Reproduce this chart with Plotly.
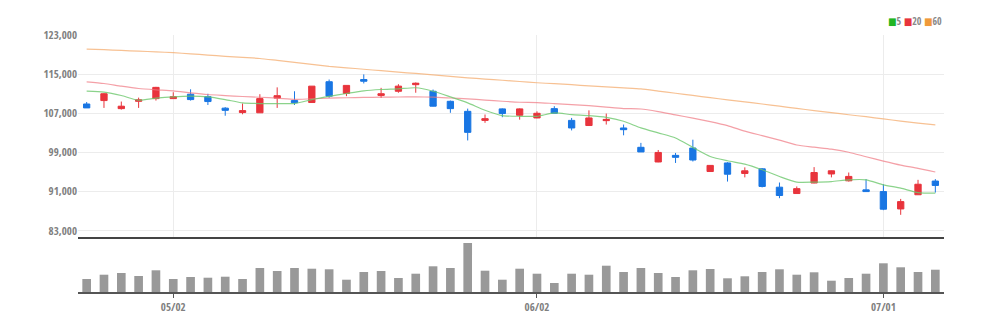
import plotly.graph_objects as go

# Trading days (KRX, 2022)
dates = [
    "2022-04-25", "2022-04-26", "2022-04-27", "2022-04-28", "2022-04-29",
    "2022-05-02", "2022-05-03", "2022-05-04", "2022-05-06", "2022-05-09",
    "2022-05-10", "2022-05-11", "2022-05-12", "2022-05-13", "2022-05-16",
    "2022-05-17", "2022-05-18", "2022-05-19", "2022-05-20", "2022-05-23",
    "2022-05-24", "2022-05-25", "2022-05-26", "2022-05-27", "2022-05-30",
    "2022-05-31", "2022-06-02", "2022-06-03", "2022-06-07", "2022-06-08",
    "2022-06-09", "2022-06-10", "2022-06-13", "2022-06-14", "2022-06-15",
    "2022-06-16", "2022-06-17", "2022-06-20", "2022-06-21", "2022-06-22",
    "2022-06-23", "2022-06-24", "2022-06-27", "2022-06-28", "2022-06-29",
    "2022-06-30", "2022-07-01", "2022-07-04", "2022-07-05", "2022-07-06",
]

open_ = [
    108900, 109600, 107950, 109450, 110000, 110000, 110900, 110400, 108050, 107150,
    107100, 110100, 109600, 109200, 113450, 111050, 113900, 110650, 111500, 112850,
    111500, 109450, 107400, 105550, 107900, 106600, 106050, 107950, 105550, 104500,
    105500, 104000, 100050, 97050, 98400, 99900, 95100, 96850, 94700, 95650,
    91900, 90600, 92750, 94600, 93200, 91350, 91000, 87450, 90350, 93150,
]
high = [
    109300, 111100, 109400, 110200, 112400, 111300, 111900, 111000, 108250, 109000,
    110900, 112300, 111500, 112550, 113900, 112700, 114950, 112200, 112950, 113300,
    111850, 109600, 107950, 106750, 108000, 108000, 107400, 108450, 106050, 107600,
    106950, 104700, 100950, 99500, 98900, 101600, 96400, 97000, 95950, 95800,
    92850, 92050, 96000, 95300, 94900, 93550, 92500, 89500, 93400, 93550,
]
low = [
    108100, 108100, 107750, 108100, 109600, 110000, 109600, 108700, 106500, 106800,
    107100, 108100, 108700, 109200, 110150, 110500, 113100, 110150, 111200, 111200,
    108400, 107100, 101450, 105050, 106200, 105700, 106000, 107000, 103500, 104500,
    104700, 102500, 99100, 97000, 96850, 97150, 95100, 93050, 93900, 91850,
    89650, 90600, 92700, 93900, 93050, 91000, 87200, 86250, 90350, 90800,
]
close = [
    108100, 111000, 108450, 109750, 112300, 110400, 109800, 109400, 107600, 107550,
    110000, 110600, 109150, 112550, 110500, 112700, 113550, 111000, 112550, 113150,
    108450, 107950, 103100, 105900, 106950, 107900, 107000, 107000, 104000, 106050,
    105750, 103650, 99100, 99000, 98000, 97450, 96350, 94550, 95250, 92050,
    90200, 91600, 94900, 95250, 94100, 91000, 87400, 88950, 92500, 92250,
]

# Volume, thousand shares
volume = [
    1300, 1730, 1900, 1600, 2170, 1300, 1500, 1430, 1530, 1300,
    2400, 2100, 2400, 2330, 2270, 1230, 2000, 2100, 1400, 1830,
    2570, 2400, 4900, 2130, 1230, 2330, 1830, 900, 1830, 1730,
    2630, 2000, 2400, 1900, 1500, 2170, 2300, 1370, 1570, 2000,
    2270, 1730, 1970, 1130, 1400, 1830, 2870, 2470, 2000, 2230,
]

# Moving averages (5 / 20 / 60 day)
ma5 = [
    111510, 111310, 110630, 109670, 110080, 110360, 110490, 110360, 109810, 109130,
    108990, 108990, 108990, 109800, 110450, 111040, 111590, 111860, 112000, 112220,
    111510, 110360, 109130, 107620, 106530, 106390, 106390, 107080, 106730, 106530,
    106180, 105370, 104010, 102990, 101960, 100030, 98180, 97300, 96620, 95460,
    94080, 92930, 92930, 93050, 93400, 93400, 92380, 91700, 90800, 90680,
]
ma20 = [
    113440, 113090, 112540, 112070, 111800, 111590, 111190, 110840, 110630, 110430,
    110280, 110100, 109830, 109970, 110080, 110180, 110240, 110290, 110330, 110350,
    110290, 110120, 109940, 109710, 109460, 109260, 109200, 108990, 108790, 108580,
    108270, 107970, 107880, 107350, 106670, 106010, 105300, 104480, 103350, 102430,
    101510, 100520, 100070, 99660, 99040, 98120, 97240, 96420, 95760, 95000,
]
ma60 = [
    120130, 120000, 119850, 119700, 119550, 119390, 119150, 118900, 118650, 118420,
    118200, 117800, 117400, 117000, 116600, 116300, 116000, 115700, 115400, 115150,
    114850, 114550, 114250, 114000, 113750, 113500, 113240, 113050, 112850, 112600,
    112400, 112200, 111990, 111550, 111100, 110650, 110200, 109750, 109330, 108900,
    108450, 108000, 107550, 107150, 106700, 106300, 105850, 105400, 105000, 104620,
]

price_ticks = [83000, 91000, 99000, 107000, 115000, 123000]
tick_dates = ["2022-05-02", "2022-06-02", "2022-07-01"]
tick_text = ["05/02", "06/02", "07/01"]

UP = "#e8343c"
DOWN = "#1976e3"
FONT = ("Noto Sans ExtraCondensed, Noto Sans Condensed, Open Sans Condensed, "
        "Liberation Sans Narrow, DejaVu Sans Condensed, Open Sans, sans-serif")

fig = go.Figure()

fig.add_trace(go.Candlestick(
    x=dates, open=open_, high=high, low=low, close=close,
    increasing=dict(line=dict(color=UP, width=1), fillcolor=UP),
    decreasing=dict(line=dict(color=DOWN, width=1), fillcolor=DOWN),
    whiskerwidth=0, xaxis="x", yaxis="y", showlegend=False,
))

for vals, col in [(ma60, "rgba(245,178,120,0.8)"),
                  (ma20, "rgba(240,120,130,0.7)"),
                  (ma5, "rgba(110,200,110,0.8)")]:
    fig.add_trace(go.Scatter(
        x=dates, y=vals, mode="lines",
        line=dict(color=col, width=1.2, shape="spline", smoothing=0.6),
        xaxis="x", yaxis="y", showlegend=False, hoverinfo="skip",
    ))

fig.add_trace(go.Bar(
    x=dates, y=volume, marker=dict(color="#999999", line=dict(width=0)),
    xaxis="x2", yaxis="y2", showlegend=False,
))

fig.update_layout(
    width=990, height=329,
    margin=dict(l=78, r=46, t=35, b=37),
    paper_bgcolor="white", plot_bgcolor="white",
    font=dict(family=FONT, size=11, color="#808080"),
    boxgap=0.48, bargap=0.5,
    xaxis=dict(
        type="category", range=[-0.5, 49.5], domain=[0, 1],
        anchor="y", matches="x2",
        tickvals=tick_dates, ticktext=tick_text, showticklabels=False,
        showgrid=True, gridcolor="#ececec", gridwidth=1,
        showline=True, linecolor="#444444", linewidth=2,
        rangeslider=dict(visible=False), zeroline=False,
    ),
    yaxis=dict(
        domain=[0.215, 1], range=[81770, 123000],
        tickvals=price_ticks, tickformat=",d",
        showgrid=True, gridcolor="#ececec", gridwidth=1,
        zeroline=False, showline=False, ticks="",
    ),
    xaxis2=dict(
        type="category", range=[-0.5, 49.5], domain=[0, 1], anchor="y2",
        tickvals=tick_dates, ticktext=tick_text,
        showgrid=False, showline=True, linecolor="#555555", linewidth=2,
        ticks="outside", ticklen=4, tickcolor="#555555", tickwidth=1,
        zeroline=False,
    ),
    yaxis2=dict(
        domain=[0, 0.2], range=[0, 5140],
        showticklabels=False, showgrid=False, zeroline=False, showline=False,
    ),
    hovermode="x",
)

# MA legend (top right)
fig.add_annotation(
    xref="paper", yref="paper", x=1.0, y=1.0, yshift=14,
    xanchor="right", yanchor="middle", showarrow=False,
    text=("<span style='color:#22b522'>■</span>5 "
          "<span style='color:#e8343c'>■</span>20 "
          "<span style='color:#f09a3a'>■</span>60"),
    font=dict(family=FONT, size=10, color="#888888"),
)

fig.write_html("out.html")
